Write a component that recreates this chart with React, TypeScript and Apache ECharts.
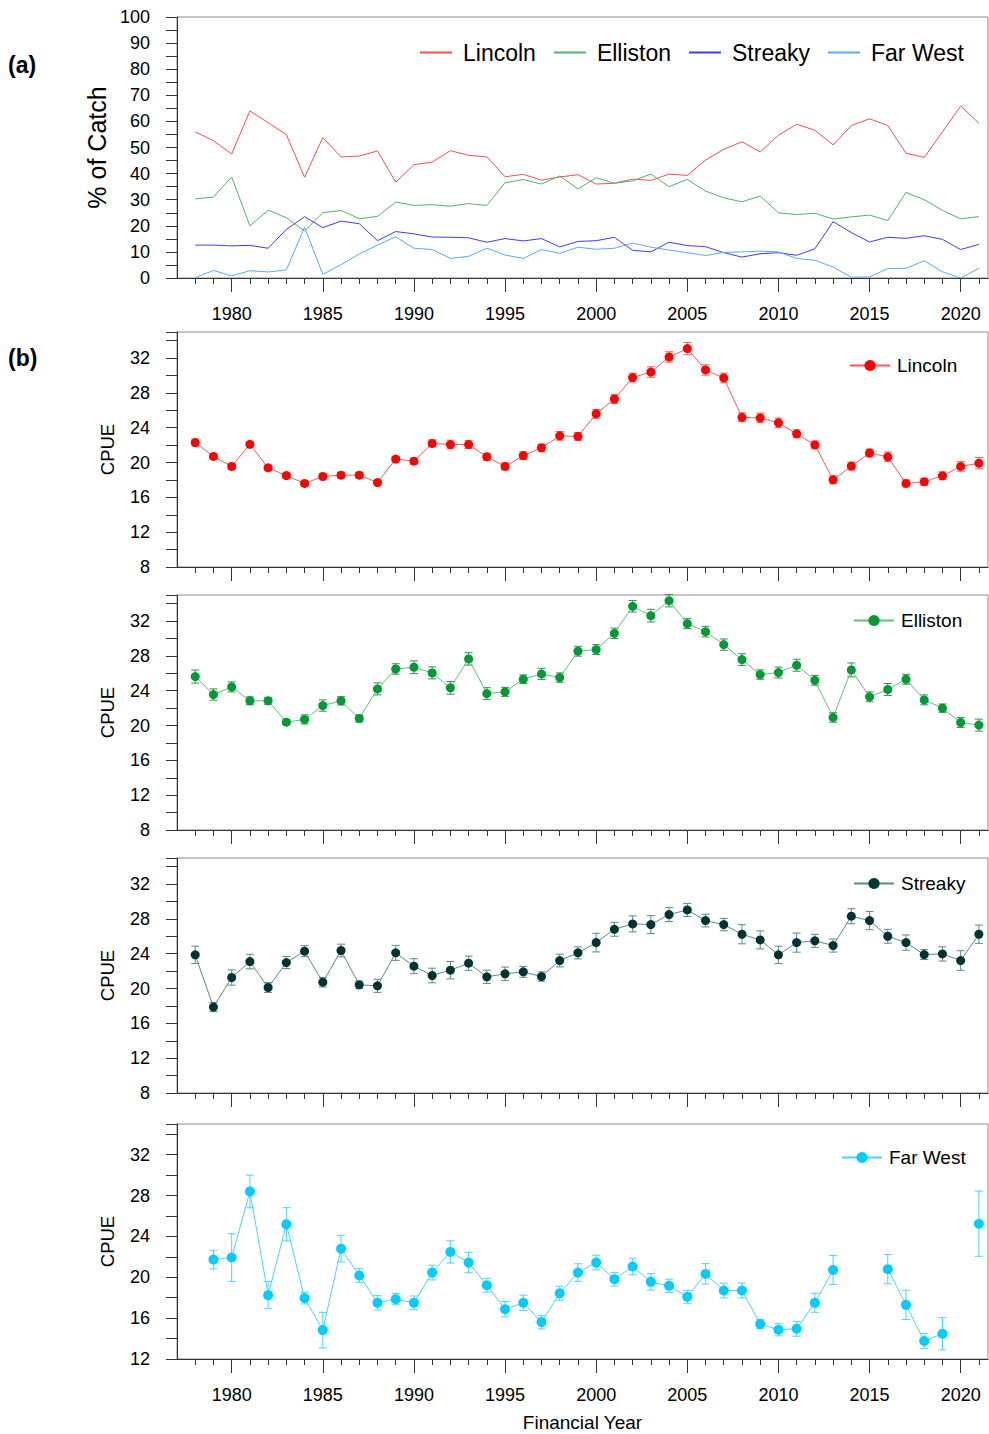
import React, { useEffect, useRef } from 'react';
import * as echarts from 'echarts';

const FONT = '"Liberation Sans", Arial, sans-serif';

const years = [1978, 1979, 1980, 1981, 1982, 1983, 1984, 1985, 1986, 1987, 1988, 1989, 1990, 1991, 1992, 1993, 1994, 1995, 1996, 1997, 1998, 1999,
  2000, 2001, 2002, 2003, 2004, 2005, 2006, 2007, 2008, 2009, 2010, 2011, 2012, 2013, 2014, 2015, 2016, 2017, 2018, 2019, 2020, 2021];
const majorYears = [1980, 1985, 1990, 1995, 2000, 2005, 2010, 2015, 2020];

// (a) % of catch
const pctLincoln = [56, 52.6, 47.5, 64, 59.5, 54.9, 38.6, 53.8, 46.4, 46.7, 48.7, 36.7, 43.4, 44.4, 48.8, 47, 46.4, 38.8, 39.7, 37.5, 38.7, 39.6,
  36, 36.3, 37.9, 37.4, 39.8, 39.3, 45.2, 49.3, 52.2, 48.3, 54.7, 58.9, 56.6, 51, 58.4, 61, 58.4, 47.8, 46.2, 56, 65.9, 59.3];
const pctElliston = [30.3, 31, 38.7, 20, 26, 23.1, 18, 25, 25.9, 22.7, 23.6, 29.1, 27.8, 28.1, 27.5, 28.5, 27.8, 36.5, 37.7, 36, 39.1, 34.1,
  38.4, 36.3, 37.2, 39.8, 35, 37.8, 33.3, 30.7, 29.2, 31.4, 25, 24.3, 24.8, 22.6, 23.4, 24.1, 22, 32.8, 30, 25.9, 22.7, 23.5];
const pctStreaky = [12.6, 12.6, 12.3, 12.5, 11.4, 18.6, 23.5, 19.3, 21.8, 20.8, 14.3, 17.8, 16.9, 15.7, 15.6, 15.4, 13.7, 15.1, 14.2, 15.1, 11.9, 14,
  14.3, 15.6, 10.6, 10, 13.7, 12.4, 12, 9.7, 8, 9.3, 9.7, 8.7, 11.2, 21.6, 17.4, 13.8, 15.6, 15.2, 16.2, 14.8, 10.9, 12.9];
const pctFarWest = [0.1, 2.9, 0.8, 2.8, 2.3, 3.1, 19.5, 1.4, 5.1, 9.2, 12.6, 15.8, 11.4, 10.9, 7.5, 8.3, 11.4, 8.8, 7.5, 10.9, 9.5, 11.8,
  11, 11.4, 13.4, 11.8, 10.7, 9.7, 8.6, 9.8, 10, 10.3, 10, 7.5, 6.8, 4.2, 0.3, 0.4, 3.6, 3.7, 6.6, 2.4, 0, 3.7];

// (b) CPUE with error
const cpueLincoln = [22.3, 20.7, 19.55, 22.1, 19.4, 18.5, 17.6, 18.4, 18.55, 18.55, 17.7, 20.4, 20.16, 22.2, 22.07, 22.07, 20.66, 19.55, 20.8, 21.7, 23.07, 23,
  25.6, 27.3, 29.76, 30.4, 32.13, 33.09, 30.64, 29.72, 25.2, 25.13, 24.56, 23.3, 22.03, 18.02, 19.59, 21.1, 20.66, 17.6, 17.79, 18.48, 19.55, 19.93];
const seLincoln = [0.4, 0.3, 0.35, 0.3, 0.3, 0.3, 0.3, 0.3, 0.3, 0.3, 0.3, 0.3, 0.35, 0.4, 0.5, 0.45, 0.4, 0.4, 0.45, 0.4, 0.5, 0.45,
  0.5, 0.5, 0.5, 0.6, 0.6, 0.7, 0.6, 0.55, 0.5, 0.55, 0.55, 0.45, 0.45, 0.45, 0.45, 0.45, 0.55, 0.4, 0.4, 0.45, 0.55, 0.65];
const cpueElliston = [25.63, 23.56, 24.44, 22.84, 22.84, 20.39, 20.7, 22.3, 22.84, 20.81, 24.21, 26.5, 26.7, 26.05, 24.33, 27.66, 23.68, 23.87, 25.32, 25.93, 25.51, 28.54,
  28.73, 30.6, 33.7, 32.63, 34.35, 31.71, 30.79, 29.3, 27.58, 25.86, 26.09, 26.93, 25.2, 20.93, 26.39, 23.3, 24.14, 25.32, 22.95, 22, 20.35, 20.05];
const seElliston = [0.75, 0.65, 0.57, 0.45, 0.4, 0.3, 0.53, 0.65, 0.48, 0.4, 0.69, 0.6, 0.73, 0.69, 0.73, 0.71, 0.67, 0.52, 0.5, 0.65, 0.54, 0.57,
  0.57, 0.6, 0.67, 0.73, 0.71, 0.57, 0.61, 0.65, 0.67, 0.54, 0.63, 0.69, 0.57, 0.55, 0.8, 0.57, 0.69, 0.57, 0.57, 0.48, 0.57, 0.69];
const cpueStreaky = [23.87, 17.87, 21.27, 23.1, 20.12, 22.99, 24.29, 20.73, 24.37, 20.43, 20.31, 24.1, 22.57, 21.5, 22.11, 22.91, 21.35, 21.69, 21.92, 21.38, 23.22, 24.1,
  25.28, 26.81, 27.43, 27.35, 28.5, 29.03, 27.81, 27.35, 26.24, 25.59, 23.87, 25.28, 25.48, 24.94, 28.31, 27.81, 26.01, 25.28, 23.91, 23.98, 23.22, 26.24];
const seStreaky = [1.0, 0.52, 0.88, 0.84, 0.57, 0.69, 0.63, 0.55, 0.73, 0.44, 0.75, 0.86, 0.86, 0.84, 1.0, 0.82, 0.76, 0.78, 0.63, 0.54, 0.73, 0.69,
  1.07, 0.8, 0.92, 1.03, 0.8, 0.75, 0.73, 0.71, 1.1, 1.03, 1.0, 1.1, 0.75, 0.75, 0.86, 1.05, 0.8, 0.88, 0.57, 0.82, 1.13, 1.05];
const cpueFarWest = [null, 21.73, 21.93, 28.4, 18.25, 25.18, 17.96, 14.83, 22.8, 20.17, 17.5, 17.86, 17.5, 20.46, 22.48, 21.44, 19.22, 16.88, 17.5, 15.61, 18.44, 20.46,
  21.44, 19.81, 21.05, 19.55, 19.16, 18.09, 20.33, 18.7, 18.7, 15.42, 14.86, 14.96, 17.5, 20.72, null, null, 20.79, 17.3, 13.76, 14.47, null, 25.24];
const seFarWest = [null, 0.91, 2.33, 1.6, 1.33, 1.63, 0.57, 1.74, 1.3, 0.67, 0.7, 0.55, 0.67, 0.72, 1.09, 1.0, 0.68, 0.75, 0.75, 0.67, 0.68, 0.86,
  0.72, 0.67, 0.81, 0.8, 0.65, 0.63, 1.0, 0.72, 0.72, 0.46, 0.59, 0.73, 0.93, 1.42, null, null, 1.43, 1.43, 0.75, 1.58, null, 3.19];

const X_MIN = 1977;
const X_MAX = 2021.5;
const GRID_LEFT = 177;
const GRID_WIDTH = 811;
const GRIDS = [
  { top: 17, height: 261 },
  { top: 332, height: 235 },
  { top: 595, height: 235 },
  { top: 858, height: 235 },
  { top: 1124, height: 235 },
];

const PANELS = [
  { name: 'Lincoln', v: cpueLincoln, se: seLincoln, marker: '#ff0000', line: '#ff5a5a', err: '#ff5a5a', ymin: 8, size: 9, legendLeft: 844, legendTop: 351 },
  { name: 'Elliston', v: cpueElliston, se: seElliston, marker: '#009933', line: '#5cc47a', err: '#3f8a5a', ymin: 8, size: 9, legendLeft: 848, legendTop: 606 },
  { name: 'Streaky', v: cpueStreaky, se: seStreaky, marker: '#003333', line: '#5c8a88', err: '#5c8a88', ymin: 8, size: 9, legendLeft: 848, legendTop: 869 },
  { name: 'Far West', v: cpueFarWest, se: seFarWest, marker: '#00ccff', line: '#45d6ff', err: '#45d6ff', ymin: 12, size: 10, legendLeft: 836, legendTop: 1143 },
];

const A_LINES = [
  { name: 'Lincoln', v: pctLincoln, color: '#ff4d4d' },
  { name: 'Elliston', v: pctElliston, color: '#4fb46c' },
  { name: 'Streaky', v: pctStreaky, color: '#3c3cff' },
  { name: 'Far West', v: pctFarWest, color: '#55aaff' },
];

function makeErr(color: string) {
  return (params: any, api: any) => {
    const x = api.value(0);
    const lo = api.coord([x, api.value(1)]);
    const hi = api.coord([x, api.value(2)]);
    const w = 4;
    const st = { stroke: color, lineWidth: 1 };
    return {
      type: 'group',
      children: [
        { type: 'line', shape: { x1: lo[0], y1: lo[1], x2: hi[0], y2: hi[1] }, style: st },
        { type: 'line', shape: { x1: lo[0] - w, y1: lo[1], x2: lo[0] + w, y2: lo[1] }, style: st },
        { type: 'line', shape: { x1: hi[0] - w, y1: hi[1], x2: hi[0] + w, y2: hi[1] }, style: st },
      ],
    };
  };
}

export default function App() {
  const ref = useRef<HTMLDivElement>(null);
  useEffect(() => {
    if (!ref.current) return;
    const chart = echarts.init(ref.current, undefined, { renderer: 'svg' });
    const axisColor = '#333';

    const grid = GRIDS.map((g) => ({
      left: GRID_LEFT, width: GRID_WIDTH, top: g.top, height: g.height,
      show: true, borderColor: '#8c8c8c', borderWidth: 1, containLabel: false,
    }));

    const xAxis: any[] = [];
    GRIDS.forEach((g, i) => {
      const showLabels = i === 0 || i === 4;
      xAxis.push({
        gridIndex: i, type: 'value', min: X_MIN, max: X_MAX, position: 'bottom',
        axisLine: { show: true, onZero: false, lineStyle: { color: axisColor, width: 1 } },
        axisTick: { show: true, length: 6, customValues: years, lineStyle: { color: axisColor } },
        axisLabel: { show: false },
        splitLine: { show: false },
      });
      xAxis.push({
        gridIndex: i, type: 'value', min: X_MIN, max: X_MAX, position: 'bottom',
        axisLine: { show: false, onZero: false },
        axisTick: { show: true, length: 14, customValues: majorYears, lineStyle: { color: axisColor } },
        axisLabel: {
          show: showLabels, customValues: majorYears, margin: 27, fontSize: 18, color: '#000', fontFamily: FONT,
          formatter: (v: number) => String(v),
        },
        splitLine: { show: false },
        name: i === 4 ? 'Financial Year' : '',
        nameLocation: 'middle', nameGap: 54,
        nameTextStyle: { fontSize: 19, color: '#000', fontFamily: FONT },
      });
    });

    const yAxis: any[] = [];
    yAxis.push({
      gridIndex: 0, type: 'value', min: 0, max: 100, interval: 5,
      axisLine: { show: true, lineStyle: { color: axisColor } },
      axisTick: { show: true, length: 11, lineStyle: { color: axisColor } },
      axisLabel: { fontSize: 18, color: '#000', fontFamily: FONT, margin: 27, formatter: (v: number) => (v % 10 === 0 ? String(v) : '') },
      splitLine: { show: false },
      name: '% of Catch', nameLocation: 'middle', nameGap: 67,
      nameTextStyle: { fontSize: 25, color: '#000', fontFamily: FONT },
    });
    PANELS.forEach((p, k) => {
      yAxis.push({
        gridIndex: k + 1, type: 'value', min: p.ymin, max: 35, interval: 2,
        axisLine: { show: true, lineStyle: { color: axisColor } },
        axisTick: { show: true, length: 11, lineStyle: { color: axisColor } },
        axisLabel: { fontSize: 18, color: '#000', fontFamily: FONT, margin: 27, formatter: (v: number) => (v % 4 === 0 ? String(v) : '') },
        splitLine: { show: false },
        name: 'CPUE', nameLocation: 'middle', nameGap: 60,
        nameTextStyle: { fontSize: 18.5, color: '#000', fontFamily: FONT },
      });
    });

    const series: any[] = [];
    A_LINES.forEach((s) => {
      series.push({
        type: 'line', name: s.name, xAxisIndex: 0, yAxisIndex: 0,
        data: years.map((y, i) => [y, s.v[i]]),
        showSymbol: false, symbol: 'none',
        lineStyle: { color: s.color, width: 1 }, itemStyle: { color: s.color },
      });
    });
    PANELS.forEach((p, k) => {
      const errData: any[] = [];
      years.forEach((y, i) => {
        const v = p.v[i];
        const e = p.se[i];
        if (v != null && e != null) errData.push([y, v - e, v + e]);
      });
      series.push({
        type: 'custom', name: 'err-' + p.name, xAxisIndex: 2 * (k + 1), yAxisIndex: k + 1,
        data: errData, encode: { x: 0, y: [1, 2] }, renderItem: makeErr(p.err), z: 2, silent: true,
      });
      series.push({
        type: 'line', name: 'b-' + p.name, xAxisIndex: 2 * (k + 1), yAxisIndex: k + 1,
        data: years.map((y, i) => [y, p.v[i] == null ? '-' : p.v[i]]),
        connectNulls: false, symbol: 'circle', symbolSize: p.size, showSymbol: true,
        itemStyle: { color: p.marker }, lineStyle: { color: p.line, width: 1 }, z: 3,
      });
    });

    const legend: any[] = [
      {
        left: 415, top: 36, orient: 'horizontal', itemGap: 18, itemWidth: 32, itemHeight: 2, icon: 'rect',
        data: A_LINES.map((s) => s.name), selectedMode: false,
        textStyle: { fontSize: 23, color: '#000', fontFamily: FONT, padding: [0, 0, 0, 6] },
      },
    ];
    PANELS.forEach((p) => {
      legend.push({
        left: p.legendLeft, top: p.legendTop, itemWidth: 40, itemHeight: 14, selectedMode: false,
        data: ['b-' + p.name], formatter: (n: string) => n.replace('b-', ''),
        textStyle: { fontSize: 19, color: '#000', fontFamily: FONT, padding: [0, 0, 0, 2] },
      });
    });

    chart.setOption({
      animation: false,
      backgroundColor: '#fff',
      textStyle: { fontFamily: FONT },
      grid, xAxis, yAxis, series, legend,
      graphic: [
        { type: 'text', left: 8, top: 53, style: { text: '(a)', fontSize: 23, fontWeight: 'bold', fontFamily: FONT, fill: '#000' } },
        { type: 'text', left: 8, top: 346, style: { text: '(b)', fontSize: 23, fontWeight: 'bold', fontFamily: FONT, fill: '#000' } },
      ],
    });
    return () => chart.dispose();
  }, []);
  return <div ref={ref} style={{ position: 'absolute', left: 0, top: 0, width: 989, height: 1434, background: '#fff' }} />;
}
